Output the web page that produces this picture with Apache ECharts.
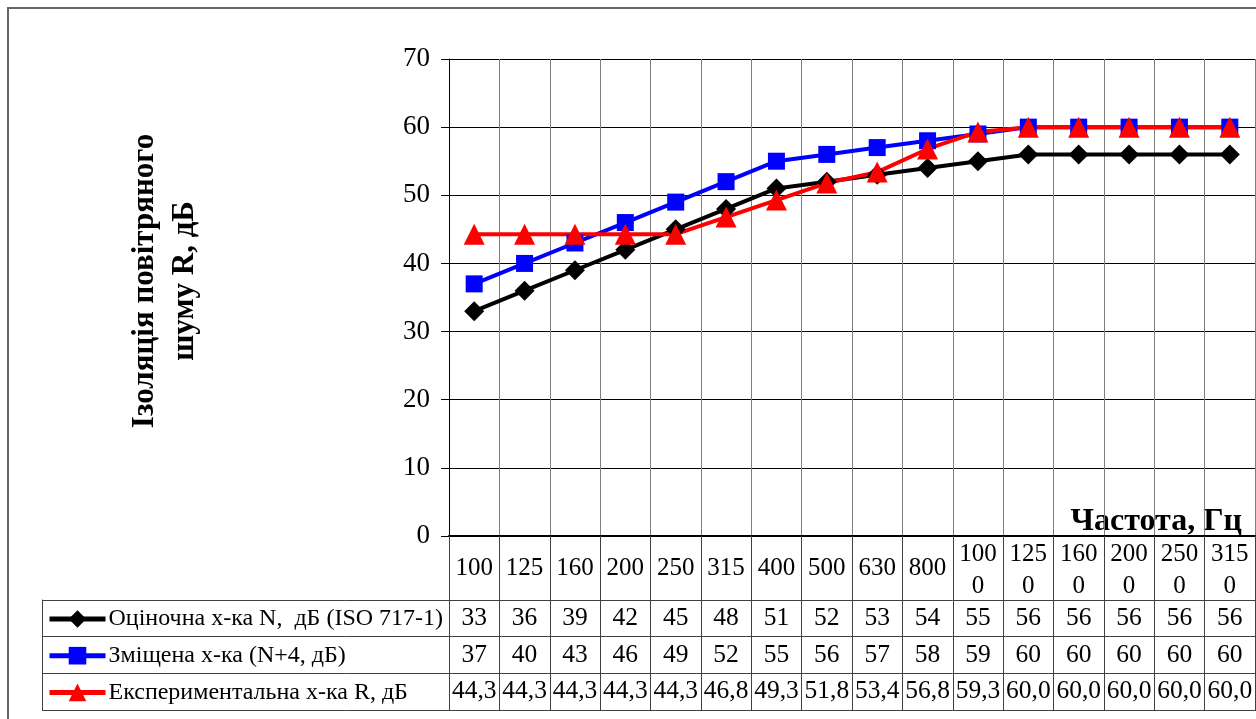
<!DOCTYPE html>
<html>
<head>
<meta charset="utf-8">
<script src="https://cdn.jsdelivr.net/npm/echarts@6/dist/echarts.min.js"></script>
<style>html,body{margin:0;padding:0;background:#fff}#chart{width:1256px;height:719px}</style>
</head>
<body>
<div id="chart"></div>
<script>
var freqs = ['100', '125', '160', '200', '250', '315', '400', '500', '630', '800', '1000', '1250', '1600', '2000', '2500', '3150'];
var ratedN = [33, 36, 39, 42, 45, 48, 51, 52, 53, 54, 55, 56, 56, 56, 56, 56];
var shiftedN = [37, 40, 43, 46, 49, 52, 55, 56, 57, 58, 59, 60, 60, 60, 60, 60];
var measuredR = [44.3, 44.3, 44.3, 44.3, 44.3, 46.8, 49.3, 51.8, 53.4, 56.8, 59.3, 60.0, 60.0, 60.0, 60.0, 60.0];
var seriesNames = ['Оціночна х-ка N,  дБ (ISO 717-1)', 'Зміщена х-ка (N+4, дБ)', 'Експериментальна х-ка R, дБ'];

window.onload = function () {
    var serif = "'Liberation Serif', 'Times New Roman', serif";
    var chart = echarts.init(document.getElementById('chart'));

    function comma(v) {
        return v.toFixed(1).replace('.', ',');
    }

    // header cell + the three table rows under each category
    function cellLabel(value, idx) {
        var head = value.length > 3
            ? '{ha|' + value.slice(0, 3) + '}\n{hb|' + value.slice(3) + '}'
            : '{h|' + value + '}';
        return head + '\n{v|' + ratedN[idx] + '}\n{v|' + shiftedN[idx] + '}\n{v|' + comma(measuredR[idx]) + '}';
    }

    var rowH = 36.7;

    var option = {
        animation: false,
        backgroundColor: '#fff',
        grid: [
            {left: 449, right: 1, top: 59, bottom: 183},
            {left: 42, right: 0, top: 600, height: 3 * rowH}
        ],
        legend: seriesNames.map(function (n, i) {
            return {
                data: [n],
                left: 47,
                top: 607 + i * rowH,
                padding: 0,
                selectedMode: false,
                itemWidth: 56,
                itemHeight: 22,
                itemGap: 4,
                lineStyle: {width: 5},
                textStyle: {fontFamily: serif, fontSize: 24, color: '#000', padding: [0, 0, 0, -2]}
            };
        }),
        xAxis: [
            {
                type: 'category',
                data: freqs,
                boundaryGap: true,
                axisLine: {lineStyle: {color: '#000', width: 2}},
                axisTick: {show: true, interval: 0, length: 174, lineStyle: {color: '#404040'}},
                splitLine: {show: true, interval: 0, lineStyle: {color: '#808080'}},
                axisLabel: {
                    interval: 0,
                    margin: 0,
                    formatter: cellLabel,
                    color: '#000',
                    fontFamily: serif,
                    rich: {
                        h: {fontFamily: serif, fontSize: 25, lineHeight: 64, color: '#000'},
                        ha: {fontFamily: serif, fontSize: 25, lineHeight: 36, color: '#000'},
                        hb: {fontFamily: serif, fontSize: 25, lineHeight: 28, color: '#000'},
                        v: {fontFamily: serif, fontSize: 25.5, lineHeight: rowH, color: '#000'}
                    }
                }
            },
            {gridIndex: 1, type: 'value', min: 0, max: 1, show: false}
        ],
        yAxis: [
            {
                type: 'value',
                min: 0,
                max: 70,
                interval: 10,
                axisLine: {show: true, lineStyle: {color: '#000'}},
                axisTick: {show: true, length: 8, lineStyle: {color: '#000'}},
                splitLine: {lineStyle: {color: '#000'}},
                axisLabel: {margin: 19, color: '#000', fontFamily: serif, fontSize: 27}
            },
            {
                gridIndex: 1,
                type: 'value',
                min: 0,
                max: 3,
                interval: 1,
                axisLine: {show: true, lineStyle: {color: '#404040'}},
                axisTick: {show: false},
                axisLabel: {show: false},
                splitLine: {show: true, lineStyle: {color: '#404040'}}
            }
        ],
        graphic: [
            {
                type: 'rect',
                shape: {x: 8, y: 8, width: 1270, height: 730},
                style: {fill: 'none', stroke: '#666', lineWidth: 2},
                silent: true
            },
            {
                type: 'text',
                x: 165,
                y: 281,
                rotation: Math.PI / 2,
                style: {
                    text: 'Ізоляція повітряного\nшуму R, дБ',
                    fontFamily: serif,
                    fontWeight: 'bold',
                    fontSize: 31,
                    lineHeight: 40,
                    fill: '#000',
                    align: 'center',
                    verticalAlign: 'middle'
                }
            },
            {
                type: 'text',
                right: 14,
                top: 506,
                style: {
                    text: 'Частота, Гц',
                    fontFamily: serif,
                    fontWeight: 'bold',
                    fontSize: 32,
                    fill: '#000'
                }
            }
        ],
        series: [
            {
                name: seriesNames[0],
                type: 'line',
                data: ratedN,
                symbol: 'diamond',
                symbolSize: 20,
                itemStyle: {color: '#000'},
                lineStyle: {color: '#000', width: 4}
            },
            {
                name: seriesNames[1],
                type: 'line',
                data: shiftedN,
                symbol: 'rect',
                symbolSize: 17,
                itemStyle: {color: '#0000ff'},
                lineStyle: {color: '#0000ff', width: 4}
            },
            {
                name: seriesNames[2],
                type: 'line',
                data: measuredR,
                symbol: 'triangle',
                symbolSize: 21,
                itemStyle: {color: '#ff0000'},
                lineStyle: {color: '#ff0000', width: 4}
            }
        ]
    };

    chart.setOption(option);
};
</script>
</body>
</html>
